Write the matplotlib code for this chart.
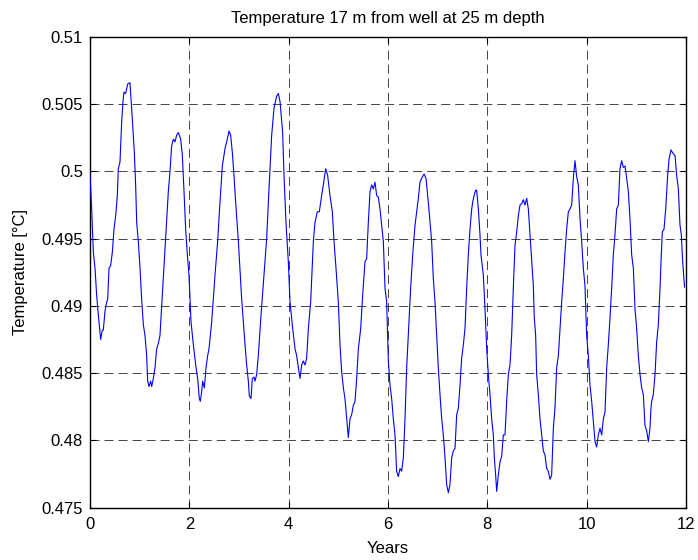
import matplotlib
matplotlib.use("Agg")
import matplotlib.pyplot as plt

years = [0.000, 0.034, 0.067, 0.101, 0.134, 0.168, 0.195, 0.215, 0.248, 0.268, 0.302, 0.336, 0.356, 0.383, 0.416, 0.450, 0.483, 0.517, 0.550, 0.570,
         0.604, 0.638, 0.664, 0.685, 0.718, 0.758, 0.805, 0.852, 0.893, 0.919, 0.940, 0.973, 1.007, 1.040, 1.074, 1.107, 1.141, 1.161, 1.188, 1.221,
         1.242, 1.275, 1.309, 1.342, 1.376, 1.409, 1.456, 1.510, 1.557, 1.577, 1.611, 1.644, 1.678, 1.711, 1.745, 1.779, 1.826, 1.859, 1.893, 1.926,
         1.960, 1.993, 2.034, 2.081, 2.128, 2.168, 2.201, 2.221, 2.248, 2.268, 2.302, 2.336, 2.369, 2.396, 2.450, 2.517, 2.570, 2.617, 2.664, 2.718,
         2.752, 2.799, 2.832, 2.866, 2.899, 2.933, 2.987, 3.054, 3.107, 3.154, 3.188, 3.208, 3.242, 3.268, 3.302, 3.322, 3.356, 3.389, 3.443, 3.503,
         3.557, 3.604, 3.658, 3.705, 3.758, 3.792, 3.826, 3.879, 3.906, 3.946, 3.993, 4.027, 4.081, 4.128, 4.161, 4.195, 4.228, 4.262, 4.295, 4.329,
         4.362, 4.396, 4.443, 4.497, 4.530, 4.577, 4.617, 4.664, 4.698, 4.745, 4.785, 4.832, 4.879, 4.913, 4.953, 5.000, 5.034, 5.067, 5.101, 5.134,
         5.168, 5.201, 5.235, 5.268, 5.302, 5.336, 5.369, 5.403, 5.450, 5.490, 5.537, 5.570, 5.604, 5.638, 5.671, 5.705, 5.738, 5.772, 5.805, 5.839,
         5.872, 5.906, 5.940, 5.973, 6.007, 6.040, 6.074, 6.107, 6.141, 6.174, 6.208, 6.242, 6.275, 6.309, 6.342, 6.376, 6.409, 6.456, 6.497, 6.544,
         6.577, 6.611, 6.644, 6.678, 6.725, 6.765, 6.812, 6.846, 6.879, 6.913, 6.946, 6.980, 7.013, 7.047, 7.081, 7.114, 7.148, 7.181, 7.215, 7.248,
         7.282, 7.315, 7.349, 7.383, 7.416, 7.450, 7.483, 7.517, 7.550, 7.584, 7.617, 7.651, 7.685, 7.705, 7.732, 7.765, 7.785, 7.819, 7.852, 7.872,
         7.919, 7.953, 7.987, 8.020, 8.054, 8.087, 8.121, 8.141, 8.168, 8.188, 8.221, 8.255, 8.289, 8.322, 8.356, 8.389, 8.423, 8.456, 8.490, 8.523,
         8.557, 8.591, 8.624, 8.658, 8.691, 8.725, 8.758, 8.792, 8.826, 8.859, 8.893, 8.926, 8.946, 8.973, 8.993, 9.027, 9.060, 9.094, 9.128, 9.161,
         9.195, 9.228, 9.262, 9.295, 9.329, 9.362, 9.396, 9.430, 9.463, 9.497, 9.530, 9.564, 9.597, 9.631, 9.664, 9.698, 9.732, 9.765, 9.799, 9.832,
         9.866, 9.899, 9.933, 9.966, 10.000, 10.034, 10.067, 10.101, 10.134, 10.168, 10.201, 10.235, 10.268, 10.302, 10.336, 10.369, 10.403, 10.436, 10.470, 10.503,
         10.537, 10.570, 10.604, 10.638, 10.671, 10.705, 10.738, 10.772, 10.805, 10.839, 10.872, 10.906, 10.940, 10.973, 11.007, 11.040, 11.074, 11.107, 11.141, 11.174,
         11.208, 11.242, 11.275, 11.295, 11.309, 11.342, 11.376, 11.409, 11.443, 11.477, 11.497, 11.523, 11.557, 11.591, 11.631, 11.658, 11.698, 11.745, 11.779, 11.812,
         11.846, 11.879, 11.906, 11.933, 11.970]

temps = [0.4998, 0.4972, 0.4940, 0.4928, 0.4908, 0.4893, 0.4883, 0.4875, 0.4882, 0.4882, 0.4896, 0.4903, 0.4905, 0.4928, 0.4930, 0.4940, 0.4957, 0.4967, 0.4982, 0.5002,
         0.5007, 0.5037, 0.5052, 0.5059, 0.5058, 0.5065, 0.5066, 0.5039, 0.5014, 0.4990, 0.4962, 0.4948, 0.4928, 0.4905, 0.4886, 0.4878, 0.4863, 0.4844, 0.4840, 0.4844,
         0.4840, 0.4846, 0.4854, 0.4868, 0.4872, 0.4878, 0.4908, 0.4943, 0.4972, 0.4985, 0.5000, 0.5019, 0.5024, 0.5022, 0.5027, 0.5029, 0.5024, 0.5012, 0.4985, 0.4957,
         0.4938, 0.4923, 0.4888, 0.4871, 0.4856, 0.4846, 0.4831, 0.4829, 0.4836, 0.4844, 0.4839, 0.4854, 0.4863, 0.4868, 0.4888, 0.4923, 0.4948, 0.4977, 0.5004, 0.5017,
         0.5022, 0.5030, 0.5027, 0.5014, 0.4997, 0.4977, 0.4948, 0.4905, 0.4878, 0.4856, 0.4844, 0.4833, 0.4831, 0.4846, 0.4847, 0.4844, 0.4849, 0.4863, 0.4893, 0.4923,
         0.4950, 0.4987, 0.5027, 0.5047, 0.5056, 0.5058, 0.5052, 0.5029, 0.4997, 0.4962, 0.4933, 0.4903, 0.4883, 0.4868, 0.4863, 0.4854, 0.4846, 0.4856, 0.4859, 0.4856,
         0.4861, 0.4883, 0.4903, 0.4948, 0.4962, 0.4970, 0.4970, 0.4982, 0.4990, 0.5002, 0.4997, 0.4982, 0.4970, 0.4948, 0.4928, 0.4903, 0.4871, 0.4851, 0.4839, 0.4831,
         0.4816, 0.4802, 0.4816, 0.4819, 0.4826, 0.4829, 0.4846, 0.4868, 0.4883, 0.4908, 0.4933, 0.4935, 0.4962, 0.4985, 0.4990, 0.4987, 0.4992, 0.4982, 0.4981, 0.4972,
         0.4960, 0.4948, 0.4913, 0.4903, 0.4859, 0.4841, 0.4831, 0.4816, 0.4804, 0.4777, 0.4773, 0.4779, 0.4777, 0.4787, 0.4816, 0.4854, 0.4878, 0.4913, 0.4938, 0.4960,
         0.4970, 0.4980, 0.4992, 0.4995, 0.4998, 0.4995, 0.4977, 0.4962, 0.4948, 0.4920, 0.4903, 0.4878, 0.4854, 0.4834, 0.4816, 0.4804, 0.4787, 0.4767, 0.4761, 0.4767,
         0.4787, 0.4792, 0.4794, 0.4819, 0.4824, 0.4841, 0.4861, 0.4871, 0.4883, 0.4913, 0.4938, 0.4957, 0.4972, 0.4977, 0.4982, 0.4986, 0.4986, 0.4972, 0.4953, 0.4938,
         0.4923, 0.4898, 0.4868, 0.4849, 0.4834, 0.4816, 0.4804, 0.4787, 0.4774, 0.4762, 0.4774, 0.4784, 0.4788, 0.4804, 0.4804, 0.4829, 0.4849, 0.4856, 0.4878, 0.4913,
         0.4945, 0.4955, 0.4967, 0.4975, 0.4976, 0.4979, 0.4975, 0.4980, 0.4972, 0.4953, 0.4933, 0.4915, 0.4891, 0.4878, 0.4849, 0.4834, 0.4816, 0.4804, 0.4792, 0.4789,
         0.4779, 0.4777, 0.4771, 0.4774, 0.4809, 0.4824, 0.4854, 0.4863, 0.4883, 0.4903, 0.4920, 0.4940, 0.4957, 0.4970, 0.4972, 0.4975, 0.4995, 0.5008, 0.4996, 0.4990,
         0.4965, 0.4948, 0.4928, 0.4915, 0.4878, 0.4863, 0.4841, 0.4829, 0.4814, 0.4799, 0.4795, 0.4804, 0.4809, 0.4804, 0.4816, 0.4821, 0.4854, 0.4871, 0.4891, 0.4913,
         0.4938, 0.4953, 0.4972, 0.4975, 0.5002, 0.5008, 0.5003, 0.5004, 0.4995, 0.4985, 0.4965, 0.4938, 0.4928, 0.4898, 0.4883, 0.4863, 0.4849, 0.4839, 0.4834, 0.4811,
         0.4807, 0.4799, 0.4809, 0.4824, 0.4829, 0.4834, 0.4849, 0.4873, 0.4886, 0.4913, 0.4933, 0.4955, 0.4957, 0.4972, 0.4997, 0.5009, 0.5016, 0.5013, 0.5012, 0.4997,
         0.4987, 0.4960, 0.4953, 0.4933, 0.4914]

x_ticks = [0, 2, 4, 6, 8, 10, 12]
y_ticks = [0.475, 0.48, 0.485, 0.49, 0.495, 0.5, 0.505, 0.51]
y_tick_labels = ["0.475", "0.48", "0.485", "0.49", "0.495", "0.5", "0.505", "0.51"]

title = "Temperature 17 m from well at 25 m depth"
x_label = "Years"
y_label = "Temperature [°C]"

FS = 12

plt.rcParams['font.family'] = ['Liberation Sans', 'DejaVu Sans']
plt.rcParams['font.size'] = FS
plt.rcParams['lines.scale_dashes'] = False

fig = plt.figure(figsize=(6.98, 5.60), dpi=100)
ax = fig.add_axes([90/698, 1 - 507.5/560, (686-90)/698, (507.5-37)/560])

ax.plot(years, temps, color=(0, 0, 1), lw=0.8, zorder=3)

ax.set_xlim(0, 12)
ax.set_ylim(0.475, 0.51)
ax.set_xticks(x_ticks)
ax.set_xticklabels([str(t) for t in x_ticks])
ax.set_yticks(y_ticks)
ax.set_yticklabels(y_tick_labels)

ax.grid(True, color='black', linestyle=(0, (6.5, 3.6)), linewidth=0.6, alpha=0.85)
ax.set_axisbelow(True)

ax.tick_params(direction='in', top=True, right=True, length=4, width=0.8,
               labelsize=FS, colors='black')
ax.tick_params(axis='x', pad=7)
ax.tick_params(axis='y', pad=5)
for s in ax.spines.values():
    s.set_linewidth(1.0)
    s.set_color('black')

ax.set_title(title, fontsize=FS, pad=10)
ax.set_xlabel(x_label, fontsize=FS, labelpad=6)
ax.set_ylabel(y_label, fontsize=FS, labelpad=10)

fig.savefig("out.png", dpi=100, facecolor='white')
